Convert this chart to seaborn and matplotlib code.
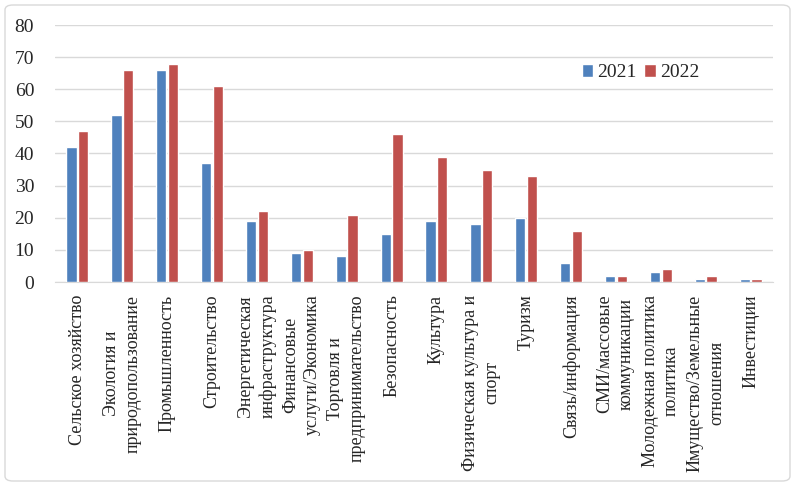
import pandas as pd
import matplotlib.pyplot as plt
import seaborn as sns
from matplotlib.patches import FancyBboxPatch

# ── data ──────────────────────────────────────────────────────────────────────
categories = [
    'Сельское хозяйство',
    'Экология и\nприродопользование',
    'Промышленность',
    'Строительство',
    'Энергетическая\nинфраструктура',
    'Финансовые\nуслуги/Экономика',
    'Торговля и\nпредпринимательство',
    'Безопасность',
    'Культура',
    'Физическая культура и\nспорт',
    'Туризм',
    'Связь/информация',
    'СМИ/массовые\nкоммуникации',
    'Молодежная политика\nполитика',
    'Имущество/Земельные\nотношения',
    'Инвестиции',
]
values_2021 = [42, 52, 66, 37, 19, 9, 8, 15, 19, 18, 20, 6, 2, 3, 1, 1]
values_2022 = [47, 66, 68, 61, 22, 10, 21, 46, 39, 35, 33, 16, 2, 4, 2, 1]
years = ['2021', '2022']
colors = ['#4F81BD', '#C0504D']

df = pd.DataFrame({
    'category': categories * 2,
    'year': [years[0]] * len(categories) + [years[1]] * len(categories),
    'value': values_2021 + values_2022,
})

# ── plot ──────────────────────────────────────────────────────────────────────
sns.set_style('white')
plt.rcParams['font.family'] = ['Liberation Serif', 'DejaVu Serif']

fig = plt.figure(figsize=(7.95, 4.86), dpi=100)
ax = fig.add_axes([55 / 795, 1 - 282 / 486, 718 / 795, 257 / 486])

sns.barplot(data=df, x='category', y='value', hue='year', order=categories,
            hue_order=years, palette=colors, width=0.52, gap=0.12,
            saturation=1, ax=ax, zorder=3)

ax.set_ylim(0, 80)
ax.set_yticks(range(0, 81, 10))
ax.yaxis.grid(True, color='#d9d9d9', linewidth=1, zorder=0)
ax.set_axisbelow(True)
for s in ['top', 'right', 'left']:
    ax.spines[s].set_visible(False)
ax.spines['bottom'].set_color('#d9d9d9')
ax.tick_params(axis='y', length=0, pad=15, labelsize=14)
ax.tick_params(axis='x', length=0, pad=9)
ax.set_xlabel('')
ax.set_ylabel('')
ax.set_xticks(range(len(categories)))
ax.set_xticklabels(categories, rotation=90, ha='center', va='top',
                   multialignment='center', fontsize=13, linespacing=1.35)

leg = ax.legend(loc='upper left', bbox_to_anchor=(0.72, 0.885), ncol=2,
                frameon=False, fontsize=14, handlelength=0.6, handleheight=0.6,
                handletextpad=0.2, columnspacing=0.4, borderpad=0)

# figure border
fig.patches.append(FancyBboxPatch((5 / 795, 5 / 486), 785 / 795, 476 / 486,
                                  boxstyle='round,pad=0,rounding_size=0.01',
                                  transform=fig.transFigure, fill=False,
                                  edgecolor='#d9d9d9', linewidth=1))

fig.savefig('out.png', dpi=100)
